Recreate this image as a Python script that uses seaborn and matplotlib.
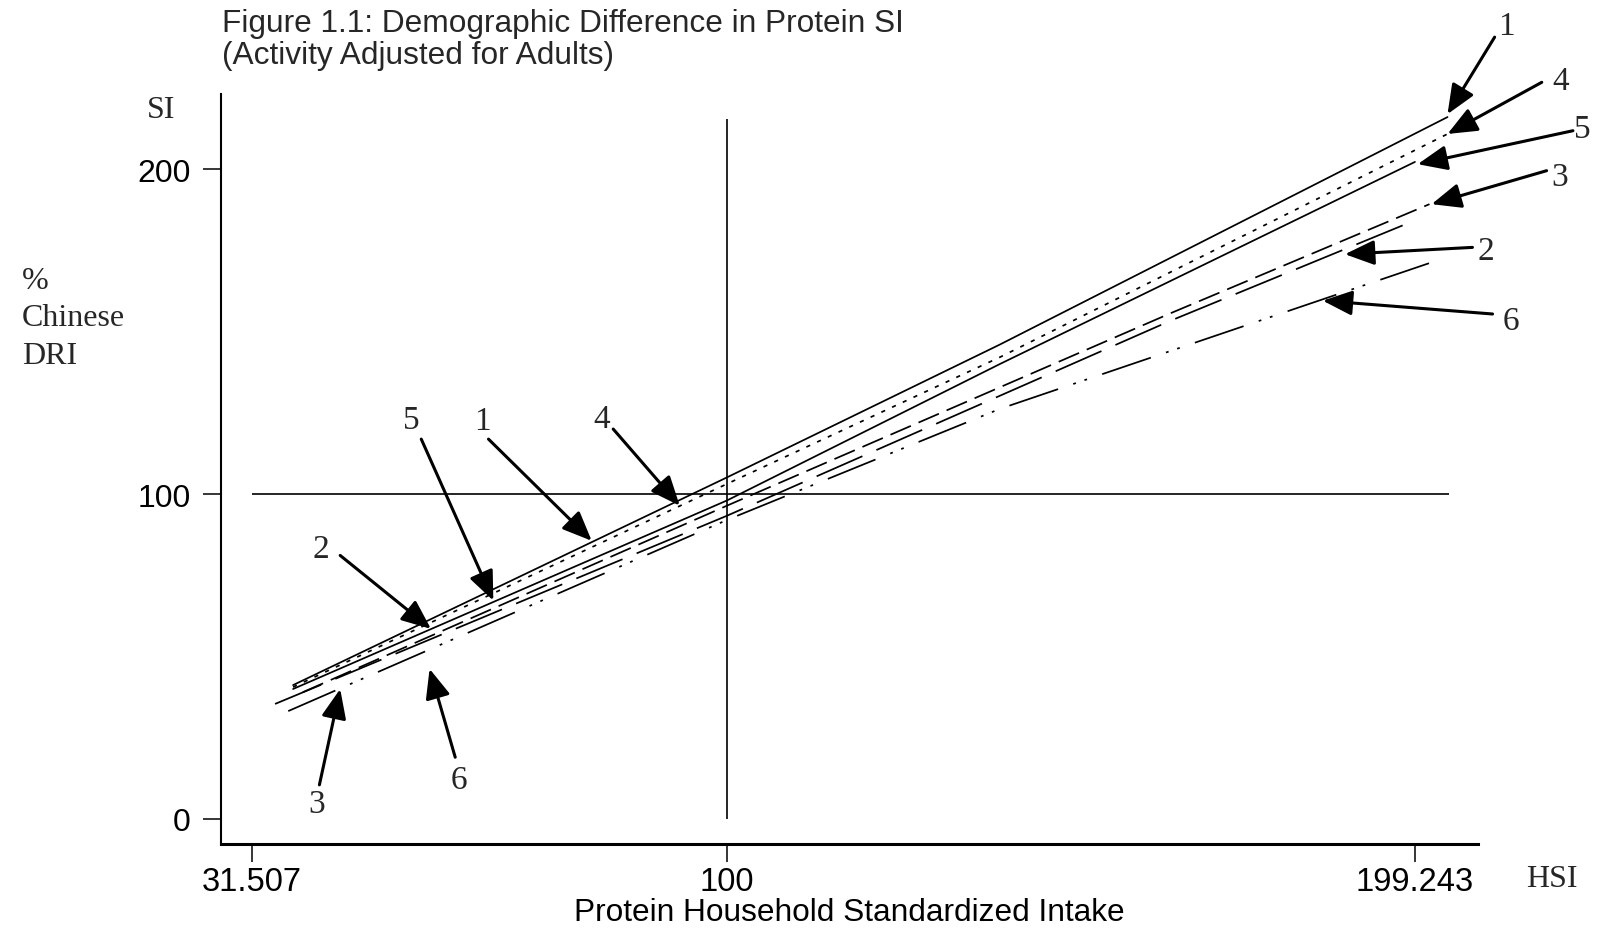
import numpy as np
import pandas as pd
import matplotlib
matplotlib.use("Agg")
import matplotlib.pyplot as plt
import seaborn as sns

# ---------------- data ----------------
group_ids = ["1", "2", "3", "4", "5", "6"]

line1_x = [37.4, 100.0, 139.4, 204.0]
line1_y = [41.2, 105.1, 146.0, 216.0]
line2_x = [34.8, 100.0, 164.0, 198.6]
line2_y = [35.4, 93.3, 153.3, 183.6]
line3_x = [38.8, 100.0, 164.0, 201.4]
line3_y = [39.0, 96.4, 155.6, 189.2]
line4_x = [37.4, 100.0, 139.4, 204.0]
line4_y = [40.6, 103.1, 142.1, 210.8]
line5_x = [37.4, 100.0, 139.4, 199.3]
line5_y = [40.0, 98.0, 140.0, 202.2]
line6_x = [36.7, 100.0, 139.4, 203.1]
line6_y = [33.2, 92.0, 126.2, 172.3]

x_ticks = [31.507, 100, 199.243]
x_tick_labels = ["31.507", "100", "199.243"]
y_ticks = [0, 100, 200]
y_tick_labels = ["0", "100", "200"]

ref_x = 100          # vertical reference (HSI = 100)
ref_x_top = 215.4
ref_y = 100          # horizontal reference (SI = 100 % DRI)
ref_y_from = 31.5
ref_y_to = 204.2

title_text = "Figure 1.1: Demographic Difference in Protein SI\n(Activity Adjusted for Adults)"
x_label = "Protein Household Standardized Intake"

# label annotations: (label, text pos, arrow tail, arrow tip) in data coords
right_labels = [
    ("1", (212.5, 244.1), (210.8, 240.6), (204.0, 216.9)),
    ("4", (220.4, 227.2), (217.6, 226.7), (204.0, 210.8)),
    ("5", (223.5, 212.3), (222.1, 211.8), (199.7, 201.5)),
    ("3", (220.2, 197.5), (218.3, 199.5), (201.7, 189.2)),
    ("2", (209.6, 174.9), (207.6, 175.9), (189.2, 173.8)),
    ("6", (213.2, 153.3), (210.5, 155.4), (186.0, 159.5)),
]
left_labels = [
    ("5", (54.4, 122.9), (55.9, 116.9), (66.3, 67.2)),
    ("1", (64.8, 122.6), (65.6, 116.9), (80.5, 85.6)),
    ("4", (81.9, 123.1), (83.6, 120.0), (93.2, 96.4)),
    ("2", (41.4, 83.3), (44.2, 81.1), (57.3, 58.5)),
    ("3", (40.8, 4.8), (41.2, 10.5), (44.2, 40.0)),
    ("6", (61.4, 12.0), (60.8, 19.0), (57.1, 46.2)),
]

# ---------------- build long table ----------------
xs_all = [line1_x, line2_x, line3_x, line4_x, line5_x, line6_x]
ys_all = [line1_y, line2_y, line3_y, line4_y, line5_y, line6_y]
df = pd.concat(
    [pd.DataFrame({"HSI": xs, "SI": ys, "group": g})
     for g, xs, ys in zip(group_ids, xs_all, ys_all)],
    ignore_index=True,
)

# ---------------- style ----------------
sns.set_style("ticks")
plt.rcParams["font.family"] = ["Liberation Sans", "DejaVu Sans"]
plt.rcParams["lines.scale_dashes"] = False
SERIF = ["Liberation Serif", "DejaVu Serif"]

W, H = 1601, 929
fig = plt.figure(figsize=(W / 100, H / 100), dpi=100)
ax = fig.add_axes([221 / W, 1 - 845 / H, (1478 - 221) / W, (845 - 95) / H])

dash_map = {
    "1": "",
    "2": (36, 11),
    "3": (16, 6),
    "4": (3, 5.5),
    "5": "",
    "6": (37, 11.5, 2, 6.5, 2, 11.5),
}
sns.lineplot(
    data=df, x="HSI", y="SI", hue="group", style="group",
    palette={g: "black" for g in group_ids}, dashes=dash_map,
    estimator=None, sort=False, legend=False, linewidth=1.25, ax=ax,
)

ax.vlines(ref_x, 0, ref_x_top, color="black", lw=1.2)
ax.hlines(ref_y, ref_y_from, ref_y_to, color="black", lw=1.2)

ax.set_xlim(27.0, 208.4)
ax.set_ylim(-7.7, 223.1)

ax.set_xticks(x_ticks, x_tick_labels)
ax.set_yticks(y_ticks, y_tick_labels)
ax.tick_params(axis="both", direction="out", length=13, width=1.1,
               colors="black")
ax.tick_params(axis="x", pad=3, labelsize=23.5)
ax.tick_params(axis="y", pad=9, labelsize=23)

for s in ["top", "right"]:
    ax.spines[s].set_visible(False)
ax.spines["left"].set_linewidth(1.5)
ax.spines["bottom"].set_linewidth(2.2)
ax.spines["left"].set_color("black")
ax.spines["bottom"].set_color("black")

ax.set_xlabel(x_label, fontsize=22.8, color="black")
ax.xaxis.set_label_coords(0.5, -0.071)
ax.set_ylabel("")

# arrow labels
arrow_props = dict(arrowstyle="-|>,head_length=0.45,head_width=0.19",
                   mutation_scale=40, lw=2.2, color="black",
                   shrinkA=0, shrinkB=0)
for lab, tpos, tail, tip in right_labels + left_labels:
    ax.annotate("", xy=tip, xytext=tail, arrowprops=arrow_props,
                annotation_clip=False)
    ax.text(tpos[0], tpos[1], lab, family=SERIF, fontsize=24,
            ha="center", va="center", clip_on=False)

# title and axis captions
fig.text(222 / W, 1 - 9 / H, title_text, fontsize=22.8, ha="left", va="top",
         linespacing=1.07)
fig.text(161 / W, 1 - 110 / H, "SI", family=SERIF, fontsize=23,
         ha="center", va="center")
fig.text(1552 / W, 1 - 880 / H, "HSI", family=SERIF, fontsize=23,
         ha="center", va="center")
fig.text(22 / W, 1 - 319 / H, "%\nChinese\nDRI", family=SERIF, fontsize=23,
         ha="left", va="center", linespacing=1.38)

fig.savefig("out.png", dpi=100, facecolor="white")
